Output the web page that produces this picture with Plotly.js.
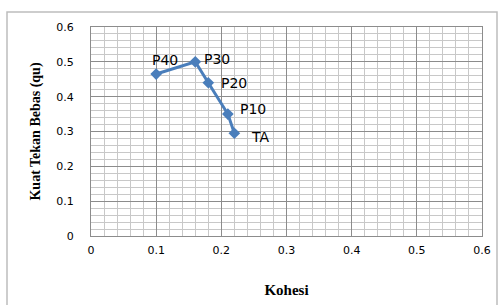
<!DOCTYPE html>
<html>
<head>
<meta charset="utf-8">
<script src="https://cdn.plot.ly/plotly-3.0.1.min.js"></script>
<style>html,body{margin:0;padding:0;background:#fff}#chart{width:498px;height:305px}</style>
</head>
<body>
<div id="chart"></div>
<script>
const labels = ["P40", "P30", "P20", "P10", "TA"];
const kohesi = [0.10, 0.16, 0.18, 0.21, 0.22];
const qu = [0.465, 0.50, 0.44, 0.35, 0.295];
const tickVals = [0, 0.1, 0.2, 0.3, 0.4, 0.5, 0.6];
const tickText = ["0", "0.1", "0.2", "0.3", "0.4", "0.5", "0.6"];
const labelShiftX = [-6, 7, 11, 10, 15];
const labelShiftY = [14, 3, 0, 5, -4];

const lineColor = "#4a7ebb";
const trace = {
  x: kohesi, y: qu, mode: "lines+markers", type: "scatter",
  line: {color: lineColor, width: 3},
  marker: {symbol: "diamond", size: 9, color: lineColor},
  hoverinfo: "skip"
};

const annotations = labels.map((t, i) => ({
  x: kohesi[i], y: qu[i], xref: "x", yref: "y", text: t, showarrow: false,
  xanchor: "left", yanchor: "middle", xshift: labelShiftX[i], yshift: labelShiftY[i],
  font: {family: "DejaVu Sans", size: 14, color: "#000"}
}));

const axisCommon = {
  range: [0, 0.6], tickvals: tickVals, ticktext: tickText,
  showgrid: true, gridcolor: "#8c8c8c", gridwidth: 1,
  minor: {dtick: 0.02, showgrid: true, gridcolor: "#c8c8c8", gridwidth: 1, ticks: ""},
  zeroline: false, showline: true, linecolor: "#8c8c8c", linewidth: 1, mirror: true,
  ticks: "", tickfont: {family: "DejaVu Sans", size: 11, color: "#000"}, fixedrange: true
};

const layout = {
  width: 498, height: 305,
  margin: {l: 91, r: 16, t: 27, b: 69},
  paper_bgcolor: "#fff", plot_bgcolor: "#fff",
  showlegend: false,
  xaxis: Object.assign({}, axisCommon, {
    ticklabelstandoff: 4,
    title: {text: "Kohesi", standoff: 28, font: {family: "Liberation Serif", size: 15, color: "#000", weight: "bold"}}
  }),
  yaxis: Object.assign({}, axisCommon, {
    ticklabelstandoff: 14,
    title: {text: "Kuat Tekan Bebas (qu)", standoff: 12, font: {family: "Liberation Serif", size: 14, color: "#000", weight: "bold"}}
  }),
  annotations: annotations,
  shapes: [{
    type: "rect", xref: "paper", yref: "paper",
    x0: (7 - 91) / 391, x1: (497 - 91) / 391, y0: -0.5, y1: 1 + (27 - 12) / 209,
    line: {color: "#bdbdbd", width: 1.5}, fillcolor: "rgba(0,0,0,0)", layer: "below"
  }]
};

Plotly.newPlot("chart", [trace], layout, {displayModeBar: false, staticPlot: true});
</script>
</body>
</html>
